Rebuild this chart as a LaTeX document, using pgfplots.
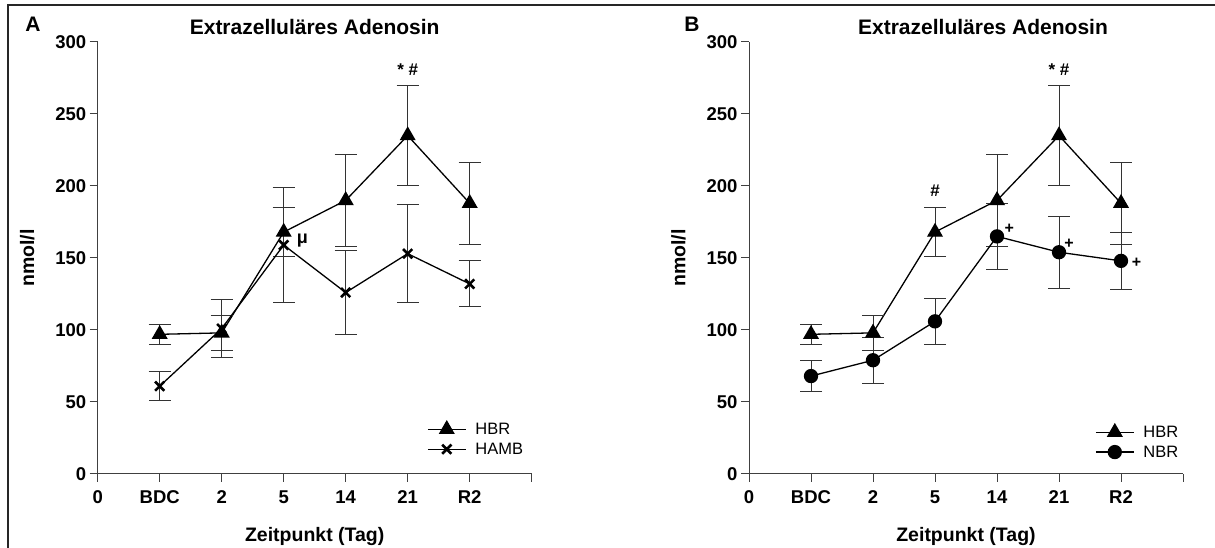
\documentclass[border=0pt]{standalone}
\usepackage{pgfplots}
\pgfplotsset{compat=1.18}
\usepackage{fontspec}
\setmainfont{Liberation Sans}
\begin{document}
\begin{tikzpicture}
\useasboundingbox (0pt,0pt) rectangle (1215pt,548pt);
\draw[line width=2pt, black!85] (8pt,0pt) -- (8pt,543pt) -- (1215pt,543pt);
\pgfplotsset{
 myaxis/.style={
  scale only axis, width=434pt, height=432pt,
  xmin=0,xmax=7,ymin=0,ymax=300,
  axis x line=bottom, axis y line=left,
  axis line style={-, line width=1pt, black!75},
  tick align=outside, major tick length=8pt,
  tick style={line width=1pt, black!75},
  xtick={0,...,7}, xticklabels={0,BDC,2,5,14,21,R2,},
  ytick={0,50,...,300}, yticklabels={0,50,100,150,200,250,300},
  tick label style={font=\fontsize{18.5}{18.5}\selectfont\bfseries},
  x tick label style={yshift=-5pt},
  xlabel={Zeitpunkt (Tag)}, ylabel={nmol/l},
  every axis x label/.style={at={(axis description cs:0.5,0)}, anchor=center, yshift=-63pt, font=\fontsize{19.5}{19.5}\selectfont\bfseries},
  every axis y label/.style={at={(axis description cs:0,0.5)}, xshift=-70.5pt, rotate=90, anchor=center, font=\fontsize{19.5}{19.5}\selectfont\bfseries},
  title={Extrazelluläres Adenosin},
  clip=false,
  legend cell align=left,
  legend image code/.code={\draw[mark repeat=2,mark phase=2] plot coordinates {(0pt,0pt)(19pt,0pt)(38pt,0pt)};},
 },
 ebar/.style={error bars/.cd, y dir=both, y explicit,
   error bar style={line width=1pt, black!80},
   error mark options={line width=1pt, black!80, mark size=11pt, rotate=90}},
 mylegend/.style={legend style={at={#1}, anchor=north west, draw=none, fill=none, inner sep=0pt, row sep=3pt, column sep=7pt,
   font=\fontsize{16.5}{16.5}\selectfont}},
}
% ---------------- Panel A
\begin{axis}[myaxis, at={(97.7pt,74pt)}, anchor=south west, mylegend={(axis cs:5.31,37)},
  title style={at={(axis description cs:0.5,1)}, anchor=center, yshift=9pt, font=\fontsize{21}{21}\selectfont\bfseries}]
\addplot[black, line width=1.3pt, mark=triangle*, mark size=8pt, ebar] coordinates {
 (1,97) +- (0,7)
 (2,98) +- (0,12)
 (3,168) +- (0,17)
 (4,190) +- (0,32)
 (5,235) +- (0,35)
 (6,188) +- (0,28.5)
};
\addlegendentry{HBR}
\addplot[black, line width=1.3pt, mark=x, mark size=6.5pt, mark options={line width=2.6pt}, ebar] coordinates {
 (1,61) +- (0,10)
 (2,101) +- (0,20)
 (3,159) +- (0,40)
 (4,126) +- (0,29)
 (5,153) +- (0,34)
 (6,132) +- (0,16)
};
\addlegendentry{HAMB}
\node[font=\fontsize{17}{17}\selectfont\bfseries] at (axis cs:5,281) {* \#};
\node[font=\fontsize{18}{18}\selectfont\bfseries] at (axis cs:3.3,162) {μ};
\end{axis}
\node[font=\fontsize{21}{21}\selectfont\bfseries] at (33pt,524pt) {A};
% ---------------- Panel B
\begin{axis}[myaxis, at={(749pt,74pt)}, anchor=south west, mylegend={(axis cs:5.58,35)},
  title style={at={(axis description cs:0.5,1)}, anchor=center, xshift=17pt, yshift=9pt, font=\fontsize{21}{21}\selectfont\bfseries}]
\addplot[black, line width=1.3pt, mark=triangle*, mark size=8pt, ebar] coordinates {
 (1,97) +- (0,7)
 (2,98) +- (0,12)
 (3,168) +- (0,17)
 (4,190) +- (0,32)
 (5,235) +- (0,35)
 (6,188) +- (0,28.5)
};
\addlegendentry{HBR}
\addplot[black, line width=1.3pt, mark=*, mark size=6.5pt, ebar] coordinates {
 (1,68) +- (0,11)
 (2,79) +- (0,16)
 (3,106) +- (0,16)
 (4,165) +- (0,23)
 (5,154) +- (0,25)
 (6,148) +- (0,20)
};
\addlegendentry{NBR}
\node[font=\fontsize{17}{17}\selectfont\bfseries] at (axis cs:5,281) {* \#};
\node[font=\fontsize{17}{17}\selectfont\bfseries] at (axis cs:3,197) {\#};
\node[font=\fontsize{16}{16}\selectfont\bfseries] at (axis cs:4.2,170) {+};
\node[font=\fontsize{16}{16}\selectfont\bfseries] at (axis cs:5.16,160) {+};
\node[font=\fontsize{16}{16}\selectfont\bfseries] at (axis cs:6.25,147) {+};
\end{axis}
\node[font=\fontsize{21}{21}\selectfont\bfseries] at (692pt,524pt) {B};
\end{tikzpicture}
\end{document}
